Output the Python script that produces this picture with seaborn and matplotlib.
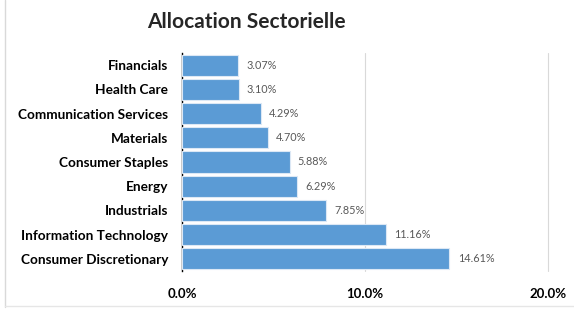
import matplotlib
matplotlib.use("Agg")
import matplotlib.pyplot as plt
import seaborn as sns
import pandas as pd
from matplotlib.ticker import FuncFormatter
from matplotlib.lines import Line2D

sectors = ["Financials", "Health Care", "Communication Services", "Materials",
           "Consumer Staples", "Energy", "Industrials", "Information Technology",
           "Consumer Discretionary"]
weights = [3.07, 3.10, 4.29, 4.70, 5.88, 6.29, 7.85, 11.16, 14.61]
xticks = [0, 10, 20]

df = pd.DataFrame({"Sector": sectors, "Weight": weights})

sns.set_theme(style="white")
plt.rcParams["font.family"] = ["Lato", "DejaVu Sans"]

fig = plt.figure(figsize=(5.74, 3.10), dpi=100)
ax = fig.add_axes([0.317, 0.126, 0.638, 0.703])

sns.barplot(data=df, x="Weight", y="Sector", orient="h", color="#5B9BD5",
            saturation=1, width=0.87, edgecolor="#DCE8F5", linewidth=0.8, ax=ax, zorder=3)

for i, v in enumerate(weights):
    ax.text(v + 0.45, i, f"{v:.2f}%", va="center", ha="left", fontsize=7.8, color="#595959")

ax.set_xlim(0, 20)
ax.set_xticks(xticks)
ax.xaxis.set_major_formatter(FuncFormatter(lambda x, p: f"{x:.1f}%"))
ax.grid(axis="x", color="#D9D9D9", linewidth=0.8, zorder=0)
for gl in ax.get_xgridlines():
    gl.set_clip_on(False)
ax.set_xlabel("")
ax.set_ylabel("")
for s in ["top", "right", "bottom"]:
    ax.spines[s].set_visible(False)
ax.spines["left"].set_color("black")
ax.spines["left"].set_linewidth(1.0)
ax.tick_params(axis="x", length=0, pad=12, labelsize=9.5)
ax.tick_params(axis="y", length=0, pad=10, labelsize=9.8)
for lbl in ax.get_xticklabels() + ax.get_yticklabels():
    lbl.set_fontweight("bold")
    lbl.set_color("black")

fig.text(0.43, 0.93, "Allocation Sectorielle", ha="center", va="center",
         fontsize=15, fontweight="bold")

# faint chart border on left and bottom
fig.add_artist(Line2D([0.009, 0.009], [0.01, 1.0], color="#D9D9D9", linewidth=1))
fig.add_artist(Line2D([0.009, 1.0], [0.013, 0.013], color="#E6E6E6", linewidth=1))

fig.savefig("out.png", dpi=100)
